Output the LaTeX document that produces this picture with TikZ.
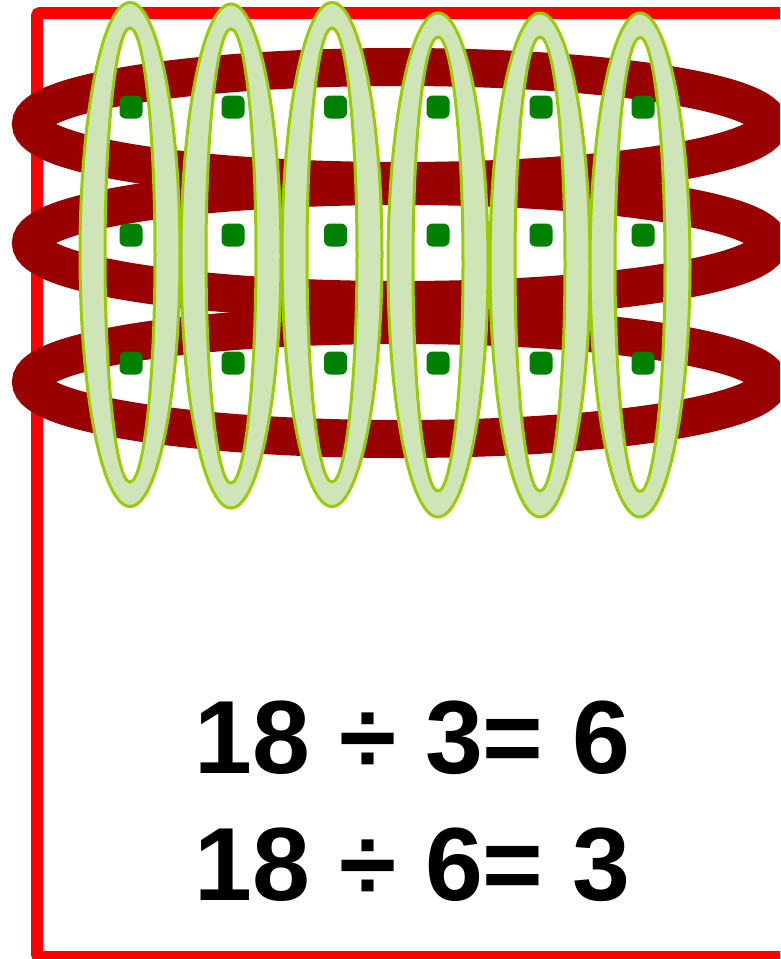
\documentclass[tikz,border=0pt]{standalone}
\usepackage{fontspec}
\setmainfont{Liberation Sans}
\definecolor{frame}{HTML}{FF0000}
\definecolor{darkring}{HTML}{990000}
\definecolor{ringfill}{HTML}{D0E5B7}
\definecolor{ringedge}{HTML}{99CC00}
\definecolor{dotgreen}{HTML}{008000}
\tikzset{
  redframe/.style={draw=frame, line width=12pt, rounded corners=3pt},
  rowring/.style={draw=darkring, line width=38pt},
  colring/.style={fill=ringfill, draw=ringedge, line width=3pt, even odd rule},
  counter/.style={fill=dotgreen, draw=none, rounded corners=6pt},
  eqtext/.style={anchor=base, inner sep=0pt, font=\fontsize{104}{128}\selectfont\bfseries}
}
\begin{document}
\begin{tikzpicture}[x=1pt,y=-1pt]
\path[use as bounding box, clip] (0,0) rectangle (780,959);
\fill[white] (0,0) rectangle (780,959);
% frame
\draw[redframe] (37,13) rectangle (820,957);
% row rings
\foreach \yy in {124,243,382}{
  \draw[rowring] (400,\yy) ellipse[x radius=369pt, y radius=57pt];
}
% column rings
\foreach \xx/\yo/\yi in {130/254.5/255, 231/256/256, 332/254.5/255, 438/265/264, 540/265/264, 640/265/264.5}{
  \path[colring] (\xx,\yo) ellipse[x radius=50pt, y radius=252pt]
                 (\xx,\yi) ellipse[x radius=25pt, y radius=227pt];
}
% counters
\foreach \xx in {131,233,335.5,438,541,643}{
  \foreach \yy in {107,235,363}{
    \fill[counter] (\xx-11.5,\yy-11.5) rectangle (\xx+11.5,\yy+11.5);
  }
}
% equations
\node[eqtext] (eqA) at (412.5,773) {18 ÷ 3= 6};
\node[eqtext] (eqB) at (412.5,900) {18 ÷ 6= 3};
\end{tikzpicture}
\end{document}
